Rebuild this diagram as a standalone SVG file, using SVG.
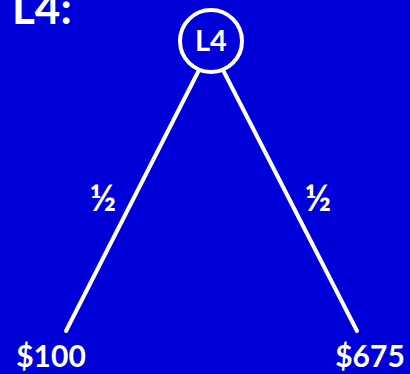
<svg xmlns="http://www.w3.org/2000/svg" width="410" height="374" viewBox="0 0 410 374">
<style>
text{font-family:"Lato","Open Sans","DejaVu Sans",sans-serif;font-weight:bold;fill:#fff}
.edge{stroke:#fff;stroke-width:4;stroke-linecap:round;fill:none}
</style>
<rect width="410" height="374" fill="#0000d8"/>
<text x="12" y="24" font-size="44">L4:</text>
<g id="connectors">
<line class="edge" x1="198" y1="72" x2="66" y2="331"/>
<line class="edge" x1="224" y1="72" x2="357" y2="331"/>
</g>
<g id="node-L4">
<circle cx="211" cy="41" r="31" fill="none" stroke="#fff" stroke-width="4"/>
<text x="211" y="51" font-size="29" text-anchor="middle">L4</text>
</g>
<g id="label-left"><text x="103" y="211" font-size="36" text-anchor="middle">½</text></g>
<g id="label-right"><text x="318" y="211" font-size="36" text-anchor="middle">½</text></g>
<g id="leaf-100"><text x="51" y="367" font-size="30" text-anchor="middle">$100</text></g>
<g id="leaf-675"><text x="370" y="367" font-size="30" text-anchor="middle">$675</text></g>
</svg>
